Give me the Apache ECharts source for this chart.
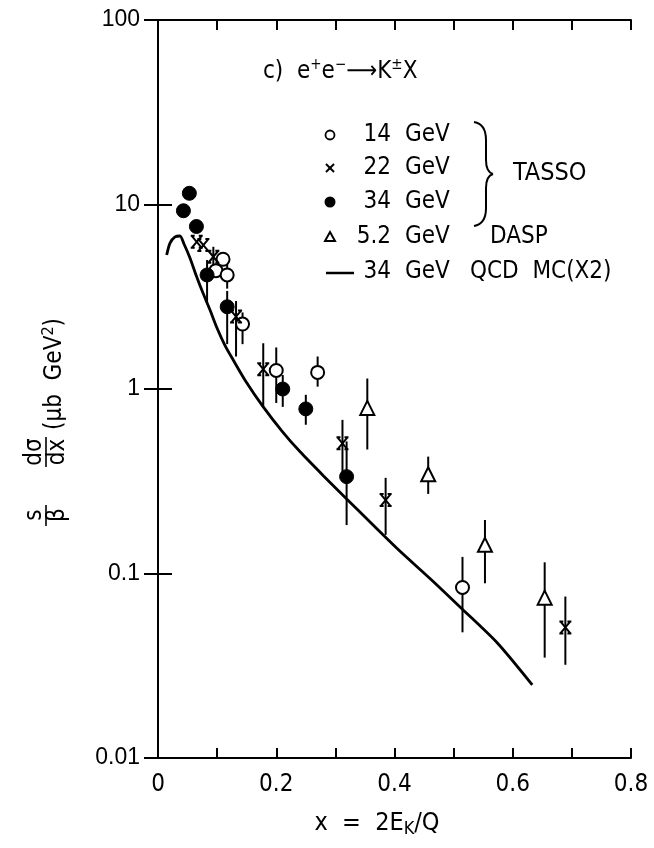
<!DOCTYPE html>
<html><head><meta charset="utf-8">
<script src="https://cdn.jsdelivr.net/npm/echarts@6/dist/echarts.min.js"></script>
<style>html,body{margin:0;padding:0;background:#fff}#c{width:654px;height:848px}</style>
</head><body><div id="c"></div>
<script>
// ---- tick labels ----
const xTickLabels = ['0', '0.2', '0.4', '0.6', '0.8'];
const yTickLabels = ['0.01', '0.1', '1', '10', '100'];

// ---- TASSO 14 GeV (open circles) ----
const x14  = [0.098, 0.110, 0.117, 0.143, 0.200, 0.270, 0.515];
const y14  = [4.38, 5.05, 4.15, 2.25, 1.26, 1.23, 0.084];
const lo14 = [null, null, 3.5, 1.75, 0.84, 1.03, 0.048];
const hi14 = [null, null, 4.9, 2.6, 1.68, 1.50, 0.123];

// ---- TASSO 22 GeV (crosses) ----
const x22  = [0.0655, 0.0767, 0.0936, 0.132, 0.178, 0.312, 0.385, 0.689];
const y22  = [6.28, 6.03, 5.21, 2.47, 1.28, 0.508, 0.25, 0.051];
const lo22 = [null, null, 4.5, 1.5, 0.80, 0.35, 0.162, 0.032];
const hi22 = [null, null, 5.9, 3.0, 1.77, 0.68, 0.33, 0.075];

// ---- TASSO 34 GeV (filled circles) ----
const x34  = [0.043, 0.053, 0.065, 0.083, 0.117, 0.211, 0.250, 0.319];
const y34  = [9.25, 11.5, 7.6, 4.15, 2.79, 1.0, 0.78, 0.335];
const lo34 = [null, null, null, 2.9, 1.75, 0.80, 0.64, 0.183];
const hi34 = [null, null, null, 5.0, 3.4, 1.19, 0.93, 0.52];

// ---- DASP 5.2 GeV (open triangles) ----
const xD  = [0.354, 0.457, 0.553, 0.654];
const yD  = [0.79, 0.345, 0.143, 0.074];
const loD = [0.47, 0.27, 0.0885, 0.035];
const hiD = [1.14, 0.43, 0.195, 0.115];

// ---- 34 GeV QCD MC (x2) curve ----
const qcdX = [0.0147, 0.0203, 0.0288, 0.0372, 0.0440, 0.0541, 0.0643, 0.0761, 0.0880, 0.0998, 0.113, 0.127, 0.147, 0.178, 0.210, 0.240, 0.280, 0.320, 0.404, 0.460, 0.514, 0.574, 0.633];
const qcdY = [5.32, 6.18, 6.67, 6.75, 6.11, 5.13, 4.15, 3.31, 2.68, 2.14, 1.73, 1.44, 1.12, 0.80, 0.59, 0.458, 0.338, 0.252, 0.137, 0.094, 0.0644, 0.042, 0.0249];

const zip = (a, b) => a.map((v, i) => [v, b[i]]);
const bars = (xs, lo, hi) => xs.map((v, i) => [v, lo[i], hi[i]]).filter(d => d[1] != null);

const FONT_C = '"DejaVu Sans Condensed", "DejaVu Sans", sans-serif';
const FONT_S = '"Liberation Sans", Arial, sans-serif';

const errSeries = (data) => ({
  type: 'custom', z: 2, silent: true,
  data: data,
  encode: { x: 0, y: [1, 2] },
  renderItem: (params, api) => {
    const p1 = api.coord([api.value(0), api.value(1)]);
    const p2 = api.coord([api.value(0), api.value(2)]);
    return { type: 'line', shape: { x1: p1[0], y1: p1[1], x2: p2[0], y2: p2[1] },
             style: { stroke: '#000', lineWidth: 2 } };
  }
});

const crossPath = 'path://M0,0L10,10M10,0L0,10M-1,0L3,0M7,0L11,0M-1,10L3,10M7,10L11,10';

const txt = (x, y, text, size, align, family, extra) => ({
  type: 'text', x: x, y: y, z: 10,
  style: Object.assign({ text: text, fontSize: size, fontFamily: family || FONT_C, fill: '#000',
    align: align || 'left', textAlign: align || 'left', verticalAlign: 'middle', textVerticalAlign: 'middle' }, extra || {})
});
const seg = (x1, y1, x2, y2, w) => ({ type: 'line', z: 10, shape: { x1, y1, x2, y2 }, style: { stroke: '#000', lineWidth: w || 2 } });
const qb = (x1, y1, cx, cy, x2, y2) => ({ type: 'bezierCurve', z: 10,
  shape: { x1, y1, x2, y2, cpx1: cx, cpy1: cy }, style: { stroke: '#000', lineWidth: 2, fill: null } });

const chart = echarts.init(document.getElementById('c'), null, { renderer: 'canvas' });
chart.setOption({
  animation: false,
  backgroundColor: '#fff',
  grid: { left: 158, right: 23, top: 20, bottom: 90, show: false },
  xAxis: [{
    type: 'value', min: 0, max: 0.8, interval: 0.1, position: 'bottom',
    axisLine: { lineStyle: { color: '#000', width: 2 } },
    axisTick: { inside: true, length: 10, lineStyle: { color: '#000', width: 2 } },
    splitLine: { show: false },
    axisLabel: { margin: 15, fontSize: 24, fontFamily: FONT_C, color: '#000',
      formatter: v => { const k = Math.round(v * 10); return k % 2 === 0 ? xTickLabels[k / 2] : ''; } }
  }, {
    type: 'value', min: 0, max: 0.8, interval: 0.1, position: 'top',
    axisLine: { lineStyle: { color: '#000', width: 2 } },
    axisTick: { inside: true, length: 10, lineStyle: { color: '#000', width: 2 } },
    splitLine: { show: false }, axisLabel: { show: false }
  }],
  yAxis: [{
    type: 'log', logBase: 10, min: 0.01, max: 100, position: 'left',
    axisLine: { lineStyle: { color: '#000', width: 2 } },
    axisTick: { inside: true, length: 14, lineStyle: { color: '#000', width: 2 } },
    minorTick: { show: false }, splitLine: { show: false },
    axisLabel: { margin: 18, fontSize: 23, fontFamily: FONT_S, color: '#000',
      formatter: v => yTickLabels[Math.round(Math.log10(v)) + 2] }
  }, {
    type: 'log', logBase: 10, min: 0.01, max: 100, position: 'right',
    axisLine: { lineStyle: { color: '#000', width: 2 } },
    axisTick: { inside: true, length: 14, lineStyle: { color: '#000', width: 2 } },
    minorTick: { show: false }, splitLine: { show: false }, axisLabel: { show: false }
  }],
  series: [
    { type: 'line', name: '34 GeV QCD MC(X2)', data: zip(qcdX, qcdY), smooth: 0.25, showSymbol: false,
      lineStyle: { color: '#000', width: 2.8 }, z: 1, silent: true },
    errSeries(bars(x14, lo14, hi14)),
    errSeries(bars(x22, lo22, hi22)),
    errSeries(bars(x34, lo34, hi34)),
    errSeries(bars(xD, loD, hiD)),
    { type: 'scatter', name: '14 GeV', data: zip(x14, y14), symbol: 'circle', symbolSize: 13, z: 3,
      itemStyle: { color: '#fff', borderColor: '#000', borderWidth: 2, opacity: 1 } },
    { type: 'scatter', name: '22 GeV', data: zip(x22, y22), symbol: crossPath, symbolSize: 12, z: 3,
      itemStyle: { color: '#000', borderColor: '#000', borderWidth: 2, opacity: 1 } },
    { type: 'scatter', name: '34 GeV', data: zip(x34, y34), symbol: 'circle', symbolSize: 14, z: 3,
      itemStyle: { color: '#000', borderColor: '#000', borderWidth: 1, opacity: 1 } },
    { type: 'scatter', name: '5.2 GeV DASP', data: zip(xD, yD), symbol: 'triangle', symbolSize: 14, z: 3,
      itemStyle: { color: '#fff', borderColor: '#000', borderWidth: 2, opacity: 1 } }
  ],
  graphic: [
    // title
    txt(263, 72, 'c)  e{sup|+}e{sup|−}⟶K{sup|±}X', 24, 'left', FONT_C,
        { rich: { sup: { fontSize: 15, fontFamily: FONT_C, padding: [0, 0, 14, 0] } } }),
    // legend symbols
    { type: 'circle', shape: { cx: 330, cy: 135, r: 4.5 }, style: { fill: '#fff', stroke: '#000', lineWidth: 1.8 }, z: 10 },
    seg(326, 164, 334, 172), seg(334, 164, 326, 172),
    { type: 'circle', shape: { cx: 330, cy: 202, r: 5.5 }, style: { fill: '#000' }, z: 10 },
    { type: 'polygon', shape: { points: [[330, 232], [335, 241], [325, 241]] }, style: { fill: '#fff', stroke: '#000', lineWidth: 2 }, z: 10 },
    seg(326, 273, 354, 273, 2.5),
    // legend labels
    txt(391, 135, '14', 24, 'right'), txt(405, 135, 'GeV', 24, 'left'),
    txt(391, 168, '22', 24, 'right'), txt(405, 168, 'GeV', 24, 'left'),
    txt(391, 202, '34', 24, 'right'), txt(405, 202, 'GeV', 24, 'left'),
    txt(391, 237, '5.2', 24, 'right'), txt(405, 237, 'GeV', 24, 'left'),
    txt(391, 272, '34', 24, 'right'), txt(405, 272, 'GeV', 24, 'left'),
    txt(513, 173, 'TASSO', 25, 'left'),
    txt(490, 237, 'DASP', 24, 'left'),
    txt(470, 272, 'QCD  MC(X2)', 24, 'left'),
    // brace
    qb(474, 122, 486, 124, 486, 140), seg(486, 140, 486, 160),
    qb(486, 160, 486, 172, 493, 174), qb(493, 174, 486, 176, 486, 188),
    seg(486, 188, 486, 208), qb(486, 208, 486, 224, 474, 226),
    // x-axis title
    txt(377, 823, 'x  =  2E{sub|K}/Q', 25, 'center', FONT_C,
        { rich: { sub: { fontSize: 18, fontFamily: FONT_C, padding: [12, 0, 0, 0] } } }),
    // y-axis title (rotated)
    { type: 'group', x: 46, y: 420, rotation: Math.PI / 2, z: 10, children: [
      txt(-95, -11, 's', 24, 'center', FONT_C),
      { type: 'line', shape: { x1: -85, y1: 0, x2: -106, y2: 0 }, style: { stroke: '#000', lineWidth: 1.6 } },
      txt(-95, 12, 'β', 24, 'center', FONT_C),
      txt(-32, -11, 'dσ', 24, 'center', FONT_C),
      { type: 'line', shape: { x1: -17, y1: 0, x2: -47, y2: 0 }, style: { stroke: '#000', lineWidth: 1.6 } },
      txt(-32, 12, 'dx', 24, 'center', FONT_C),
      txt(46, 9, '(μb  GeV{sup|2})', 24, 'center', FONT_C,
          { rich: { sup: { fontSize: 16, fontFamily: FONT_C, padding: [0, 0, 12, 0] } } })
    ]}
  ]
});
</script>
</body></html>
